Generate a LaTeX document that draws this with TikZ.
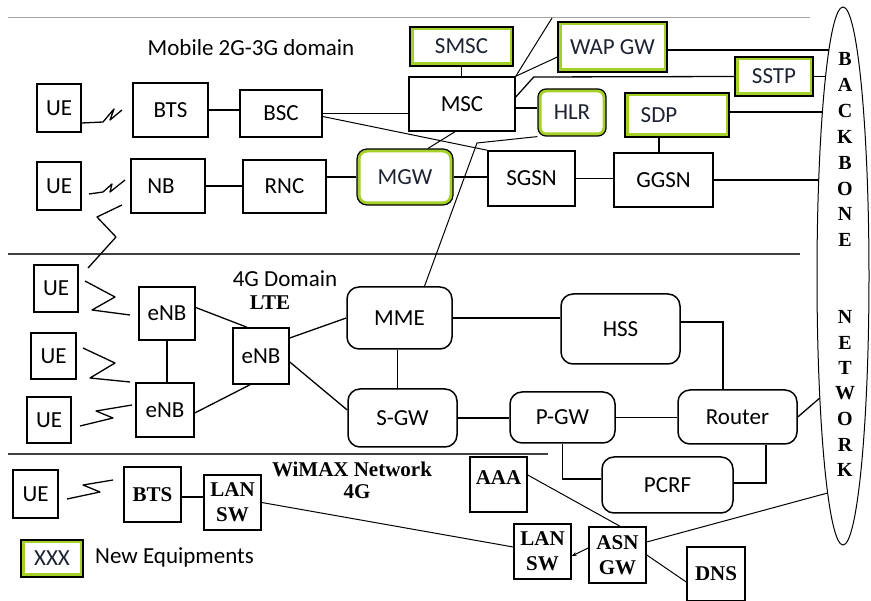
\documentclass[tikz,border=0pt]{standalone}
\usepackage{fontspec}
\setmainfont{Carlito}
\newfontfamily\tnr{Liberation Serif}
\usetikzlibrary{shapes.geometric,arrows.meta}
\definecolor{newgreen}{RGB}{165,208,40}
\definecolor{newtext}{RGB}{30,35,50}
\tikzset{
  box/.style={draw, line width=1.5pt, inner sep=0pt, font=\fontsize{23}{25}\selectfont, align=center},
  rbox/.style={box, rounded corners=12pt},
  sbox/.style={draw, line width=1.5pt, inner sep=0pt, font=\tnr\bfseries\fontsize{21}{25}\selectfont, align=center},
  newbox/.style={box, line width=1.2pt, text=newtext,
    path picture={\draw[newgreen, line width=7pt] (path picture bounding box.south west) rectangle (path picture bounding box.north east);}},
  newrbox/.style={box, line width=1.2pt, text=newtext, rounded corners=#1,
    path picture={\draw[newgreen, line width=7pt, rounded corners=#1] (path picture bounding box.south west) rectangle (path picture bounding box.north east);}},
  conn/.style={line width=1.3pt},
  sep/.style={line width=1.3pt, black!75},
  bolt/.style={line width=1.3pt, line join=round},
  bbl/.style={inner sep=0pt, font=\tnr\bfseries\fontsize{20}{22}\selectfont},
  lbl/.style={inner sep=0pt, font=\fontsize{23}{25}\selectfont},
  slbl/.style={inner sep=0pt, font=\tnr\bfseries\fontsize{21}{25}\selectfont, align=center},
}
\begin{document}
\begin{tikzpicture}[x=1pt,y=-1pt]
\useasboundingbox (0,0) rectangle (871,601);

% separators
\coordinate (t1) at (8,18);   \coordinate (t2) at (810,18);
\coordinate (s1) at (8,254);  \coordinate (s2) at (800,254);
\coordinate (w1) at (8,454);  \coordinate (w2) at (548,454);
\draw[line width=1pt, black!35] (t1) -- (t2);
\draw[sep] (s1) -- (s2);
\draw[sep] (w1) -- (w2);

% backbone ellipse
\node[draw, ellipse, line width=1pt, minimum width=52pt, minimum height=538pt, inner sep=0pt] (bb) at (843,276) {};
\foreach \c [count=\i] in {B,A,C,K,B,O,N,E}
  \node[bbl] (bk\i) at (845,{59+(\i-1)*25.9}) {\c};
\foreach \c [count=\i] in {N,E,T,W,O,R,K}
  \node[bbl] (nw\i) at (845,{317+(\i-1)*25.5}) {\c};
\coordinate (e1) at (828.9,50);
\coordinate (e2) at (825.5,76.5);
\coordinate (e3) at (822.4,112);
\coordinate (e4) at (818.7,180);
\coordinate (e5) at (819.8,398);
\coordinate (e6) at (827.6,493);

% titles
\node[lbl] (t2g) at (251,48) {Mobile 2G-3G domain};
\node[lbl] (t4g) at (285,279) {4G Domain};
\node[slbl] (tlte) at (270,303) {LTE};
\node[slbl] (twm) at (352,469) {WiMAX Network};
\node[slbl] (twm2) at (357,492) {4G};

% 2G-3G nodes
\node[box, minimum width=44, minimum height=48] (ue1) at (59,108) {UE};
\node[box, minimum width=75, minimum height=54] (bts) at (170.5,110) {BTS};
\node[box, minimum width=82, minimum height=47] (bsc) at (281,113.5) {BSC};
\node[box, minimum width=106, minimum height=54] (msc) at (462,104) {MSC};
\node[newbox, minimum width=103, minimum height=39] (smsc) at (461.5,46.5) {SMSC};
\node[newbox, minimum width=109, minimum height=50] (wap) at (612.5,47) {WAP GW};
\node[newbox, minimum width=78, minimum height=39] (sstp) at (774,76.5) {SSTP};
\node[newrbox=8pt, minimum width=68, minimum height=47] (hlr) at (572,112.5) {HLR};
\node[newbox, minimum width=104, minimum height=44] (sdp) at (677,115) {\hspace*{-36pt}SDP};
\node[box, minimum width=87, minimum height=55] (sgsn) at (531.5,178.5) {SGSN};
\node[box, minimum width=99, minimum height=54] (ggsn) at (663.5,180) {GGSN};
\node[box, minimum width=44, minimum height=48] (ue2) at (59,186) {UE};
\node[box, minimum width=74, minimum height=54] (nb) at (168,186) {\hspace*{-14pt}NB};
\node[box, minimum width=83, minimum height=53] (rnc) at (284.5,186.5) {RNC};
\node[newrbox=10pt, minimum width=96, minimum height=56] (mgw) at (405,177) {MGW};

% 4G nodes
\node[box, minimum width=44, minimum height=47] (ue3) at (56,288.5) {UE};
\node[box, minimum width=56, minimum height=53] (enb1) at (167,313.5) {eNB};
\node[box, minimum width=45, minimum height=46] (ue4) at (53.5,356) {UE};
\node[box, minimum width=58, minimum height=54] (enb2) at (165,410) {eNB};
\node[box, minimum width=44, minimum height=46] (ue5) at (49,420) {UE};
\node[box, minimum width=56, minimum height=56] (enbc) at (261,356) {eNB};
\node[rbox, minimum width=105, minimum height=62] (mme) at (399.5,318) {MME};
\node[rbox, minimum width=109, minimum height=58] (sgw) at (402.5,418) {S-GW};
\node[rbox, minimum width=119, minimum height=70] (hss) at (620.5,329) {HSS};
\node[rbox, minimum width=105, minimum height=51] (pgw) at (562.5,417.5) {P-GW};
\node[rbox, minimum width=119, minimum height=54] (router) at (737.5,417) {Router};
\node[rbox, minimum width=131, minimum height=56] (pcrf) at (667.5,485) {PCRF};

% WiMAX nodes
\node[box, minimum width=45, minimum height=48] (ue6) at (35.5,494) {UE};
\node[sbox, minimum width=57, minimum height=55] (bts2) at (152.5,494.5) {BTS};
\node[sbox, minimum width=57, minimum height=55] (lan1) at (232.5,502.5) {LAN\\SW};
\node[sbox, minimum width=57, minimum height=55, text height=14pt, text depth=14pt] (aaa) at (498.5,484.5) {AAA};
\node[sbox, minimum width=57, minimum height=55] (lan2) at (542.5,551.5) {LAN\\SW};
\node[sbox, minimum width=57, minimum height=56] (asn) at (617.5,555) {ASN\\GW};
\node[sbox, minimum width=58, minimum height=54] (dns) at (716,574) {DNS};

% legend
\node[newbox, minimum width=62, minimum height=37] (leg) at (52,558.5) {XXX};
\node[lbl, anchor=west] (legt) at (95,557) {New Equipments};

% bolts
\draw[bolt] ([yshift=-15pt]ue1.east) -- (103,122) -- (114,109) -- (110,120) -- (122,110);
\draw[bolt] (89,194) -- (103,192) -- (112,184) -- (110,192) -- (125,180);
\draw[bolt] (122,205) -- (97,217) -- (116,237) -- (88,268);
\draw[bolt] (85,281) -- (115,297) -- (92,310) -- (130,315);
\draw[bolt] (83,348) -- (115,363) -- (90,378) -- (130,382);
\draw[bolt] (80,426) -- (113,418) -- (96,411) -- (132,405);
\draw[bolt] (67,499) -- (100,492) -- (83,485) -- (113,480);

% 2G-3G connectors
\coordinate (topend) at (552,18);
\draw[conn] (bts.east) -- (bts.east -| bsc.west);
\draw[conn] (bsc.east) -- (bsc.east -| msc.west);
\draw[conn, line width=1pt] ([yshift=-3pt]bsc.east) -- (sgsn.north west);
\draw[conn] (smsc.south) -- (smsc.south |- msc.north);
\draw[conn, line width=1pt] (msc.north east) -- (topend);
\draw[conn, line width=1pt] (msc.north east) -- ([yshift=-10pt]wap.west);
\draw[conn] ([yshift=7pt]msc.east) -- ++(18,-20) -- (sstp.west);
\draw[conn] ([yshift=-4pt]msc.east) -- ([yshift=-4pt]msc.east -| hlr.west);
\draw[conn, line width=1pt] (hlr.south west) -- (477,143) -- ([xshift=25pt]mme.north);
\draw[conn, line width=1pt] ([xshift=23pt]mgw.north) -- ([xshift=-7pt]msc.south);
\draw[conn] (nb.east) -- (nb.east -| rnc.west);
\draw[conn] (mgw.west) -- (mgw.west -| rnc.east);
\draw[conn] (mgw.east) -- (mgw.east -| sgsn.west);
\draw[conn] (sgsn.east) -- (sgsn.east -| ggsn.west);
\draw[conn] (ggsn.east) -- (e4);
\draw[conn] ([xshift=-18pt]sdp.south) -- ([xshift=-18pt]sdp.south |- ggsn.north);
\draw[conn] ([yshift=3pt]sdp.east) -- (e3);
\draw[conn] (sstp.east) -- (e2);
\draw[conn] ([yshift=-3pt]wap.east) -- (e1);

% 4G connectors
\draw[conn] ([yshift=6pt]enb1.east) -- ([xshift=-14pt]enbc.north);
\draw[conn] (enb1.south) -- (enb1.south |- enb2.north);
\draw[conn] ([yshift=-3pt]enb2.east) -- ([xshift=-11pt]enbc.south);
\draw[conn] ([yshift=18pt]enbc.east) -- (mme.west);
\draw[conn] ([yshift=-6pt]enbc.east) -- ([yshift=8pt]sgw.west);
\draw[conn] (mme.east) -- (mme.east -| hss.west);
\draw[conn] ([xshift=-2pt]mme.south) -- ([xshift=-2pt]mme.south |- sgw.north);
\draw[conn] (sgw.east) -- (sgw.east -| pgw.west);
\draw[conn] (pgw.east) -- (pgw.east -| router.west);
\draw[conn] ([yshift=7pt]hss.east) -| ([xshift=-14.5pt]router.north);
\draw[conn] (router.east) -- (e5);
\draw[conn] ([yshift=6pt]pcrf.west) -| (pgw.south);
\draw[conn] ([yshift=2pt]pcrf.east) -| ([xshift=28.5pt]router.south);

% WiMAX connectors
\draw[conn] ([yshift=-2.5pt]bts2.east) -- ([yshift=-2.5pt]bts2.east -| lan1.west);
\draw[conn, line width=1pt] (lan1.east) -- ([yshift=4.5pt]lan2.west);
\draw[conn, line width=1pt] ([yshift=9.5pt]aaa.east) -- ([xshift=2.5pt]asn.north);
\draw[conn, line width=1pt, -{Stealth[length=5pt,width=4pt]}] ([yshift=7pt]asn.west) -- ([yshift=-4.5pt]lan2.east);
\draw[conn, line width=1pt] ([yshift=13pt]asn.east) -- (e6);
\draw[conn, line width=1pt] ([yshift=-8pt]dns.west) -- (asn.east);
\end{tikzpicture}
\end{document}
